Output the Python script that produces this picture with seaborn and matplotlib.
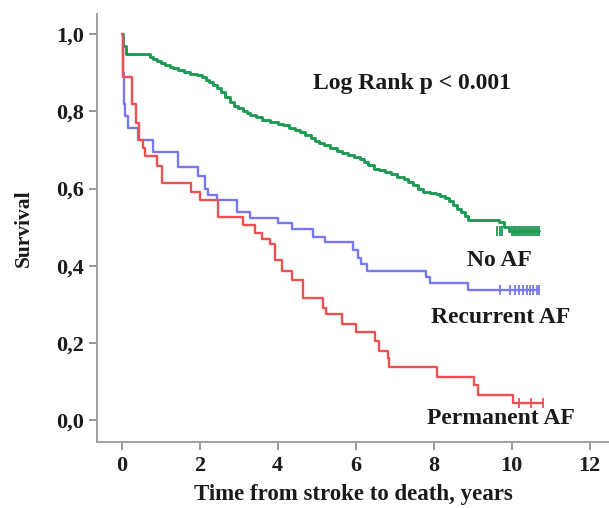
import matplotlib
matplotlib.use("Agg")
import matplotlib.pyplot as plt
import seaborn as sns
import pandas as pd

# ---- data ----
noaf_t = [0, 0.03, 0.1, 0.72, 0.8, 0.9, 1.0, 1.12, 1.23, 1.32, 1.45, 1.6, 1.75, 1.93, 2.05,
          2.15, 2.25, 2.35, 2.44, 2.55, 2.65, 2.78, 2.88, 2.98, 3.1, 3.2, 3.3, 3.45, 3.6,
          3.8, 4.0, 4.14, 4.3, 4.45, 4.58, 4.7, 4.85, 4.95, 5.05, 5.2, 5.35, 5.52, 5.65,
          5.8, 5.95, 6.12, 6.22, 6.32, 6.46, 6.6, 6.75, 6.9, 7.05, 7.23, 7.35, 7.47, 7.6,
          7.74, 7.9, 8.05, 8.17, 8.3, 8.4, 8.5, 8.6, 8.7, 8.8, 8.87, 9.67, 9.8, 9.93, 10.7]
noaf_s = [1.0, 0.97, 0.948, 0.942, 0.936, 0.93, 0.925, 0.92, 0.916, 0.912, 0.907, 0.902,
          0.898, 0.894, 0.888, 0.882, 0.875, 0.868, 0.86, 0.85, 0.838, 0.825, 0.815, 0.808,
          0.802, 0.796, 0.792, 0.786, 0.778, 0.772, 0.768, 0.764, 0.758, 0.752, 0.746,
          0.738, 0.73, 0.724, 0.718, 0.712, 0.705, 0.698, 0.692, 0.687, 0.682, 0.676,
          0.668, 0.66, 0.652, 0.647, 0.642, 0.637, 0.631, 0.624, 0.617, 0.608, 0.6, 0.592,
          0.588, 0.585, 0.581, 0.575, 0.567, 0.558, 0.548, 0.538, 0.528, 0.518, 0.512,
          0.5, 0.49, 0.49]

rec_t = [0, 0.02, 0.05, 0.08, 0.15, 0.41, 0.8, 1.44, 1.95, 2.13, 2.2, 2.44, 2.95, 3.29,
         4.0, 4.37, 4.9, 5.22, 5.94, 6.05, 6.15, 6.3, 7.8, 7.92, 8.87, 10.7]
rec_s = [1.0, 0.9, 0.82, 0.787, 0.758, 0.727, 0.696, 0.655, 0.632, 0.6, 0.584, 0.571, 0.54,
         0.524, 0.51, 0.494, 0.475, 0.462, 0.44, 0.42, 0.405, 0.385, 0.37, 0.355, 0.338,
         0.338]

perm_t = [0, 0.03, 0.25, 0.37, 0.45, 0.55, 0.6, 0.9, 1.03, 1.78, 2.0, 2.47, 3.1, 3.42, 3.6,
          3.8, 3.93, 4.1, 4.37, 4.66, 5.17, 5.25, 5.65, 6.0, 6.5, 6.6, 6.82, 6.86, 8.1,
          9.03, 9.15, 10.03, 10.8]
perm_s = [1.0, 0.89, 0.82, 0.77, 0.725, 0.705, 0.685, 0.658, 0.615, 0.592, 0.57, 0.527,
          0.506, 0.486, 0.47, 0.455, 0.415, 0.385, 0.364, 0.315, 0.29, 0.275, 0.25, 0.228,
          0.205, 0.18, 0.16, 0.138, 0.112, 0.09, 0.066, 0.044, 0.044]

noaf_cens = [9.62, 9.7, 9.76, 10.0, 10.05, 10.1, 10.15, 10.2, 10.25, 10.3, 10.35, 10.4,
             10.45, 10.5, 10.55, 10.6, 10.65, 10.7]
rec_cens = [9.7, 9.95, 10.1, 10.2, 10.3, 10.4, 10.48, 10.56, 10.64, 10.7]
perm_cens = [10.2, 10.5, 10.8]

groups = ["No AF", "Recurrent AF", "Permanent AF"]
colors = {"No AF": "#1f9a55", "Recurrent AF": "#7878f2", "Permanent AF": "#f05050"}
xticks = [0, 2, 4, 6, 8, 10, 12]
yticks = [0.0, 0.2, 0.4, 0.6, 0.8, 1.0]
yticklabels = ["0,0", "0,2", "0,4", "0,6", "0,8", "1,0"]

# ---- figure ----
sns.set_style("ticks")
plt.rcParams["font.family"] = ["Liberation Serif", "DejaVu Serif"]
plt.rcParams["font.weight"] = "bold"

fig = plt.figure(figsize=(6.09, 5.08), dpi=100)
ax = fig.add_axes([0.159, 0.130, 0.841, 0.842])

curves = {"No AF": (noaf_t, noaf_s, noaf_cens, 2.1),
          "Recurrent AF": (rec_t, rec_s, rec_cens, 1.7),
          "Permanent AF": (perm_t, perm_s, perm_cens, 1.7)}

for g in groups:
    t, s, cens, lw = curves[g]
    df = pd.DataFrame({"t": t, "s": s})
    sns.lineplot(data=df, x="t", y="s", ax=ax, color=colors[g], lw=lw,
                 drawstyle="steps-post", estimator=None, sort=False)
    cs = [s[-1]] * len(cens)
    sns.scatterplot(x=cens, y=cs, ax=ax, marker="|", s=45, color=colors[g],
                    linewidth=1.3)

ax.set_xlim(-0.64, 12.5)
ax.set_ylim(-0.057, 1.052)
ax.set_xticks(xticks)
ax.set_xticklabels([str(x) for x in xticks])
ax.set_yticks(yticks)
ax.set_yticklabels(yticklabels)
ax.tick_params(axis="both", labelsize=16, color="#888888", length=6, width=1.2,
               labelcolor="#1a1a1a")
ax.tick_params(axis="y", pad=3)
ax.tick_params(axis="x", pad=4)
for lab in ax.get_xticklabels() + ax.get_yticklabels():
    lab.set_fontweight("bold")
sns.despine(ax=ax)
for sp in ["left", "bottom"]:
    ax.spines[sp].set_color("#999999")
    ax.spines[sp].set_linewidth(1.3)

ax.set_xlabel("Time from stroke to death, years", fontsize=16.5, fontweight="bold",
              color="#1a1a1a", labelpad=6)
ax.set_ylabel("Survival", fontsize=15.5, fontweight="bold", color="#1a1a1a", labelpad=16)

ax.text(7.45, 0.873, "Log Rank p < 0.001", fontsize=17, fontweight="bold",
        ha="center", va="center", color="#1a1a1a")
ax.text(9.69, 0.413, "No AF", fontsize=17, fontweight="bold", ha="center", va="center",
        color="#1a1a1a")
ax.text(9.72, 0.266, "Recurrent AF", fontsize=17, fontweight="bold", ha="center",
        va="center", color="#1a1a1a")
ax.text(9.72, 0.003, "Permanent AF", fontsize=17, fontweight="bold", ha="center",
        va="center", color="#1a1a1a")

fig.savefig("out.png", dpi=100)
